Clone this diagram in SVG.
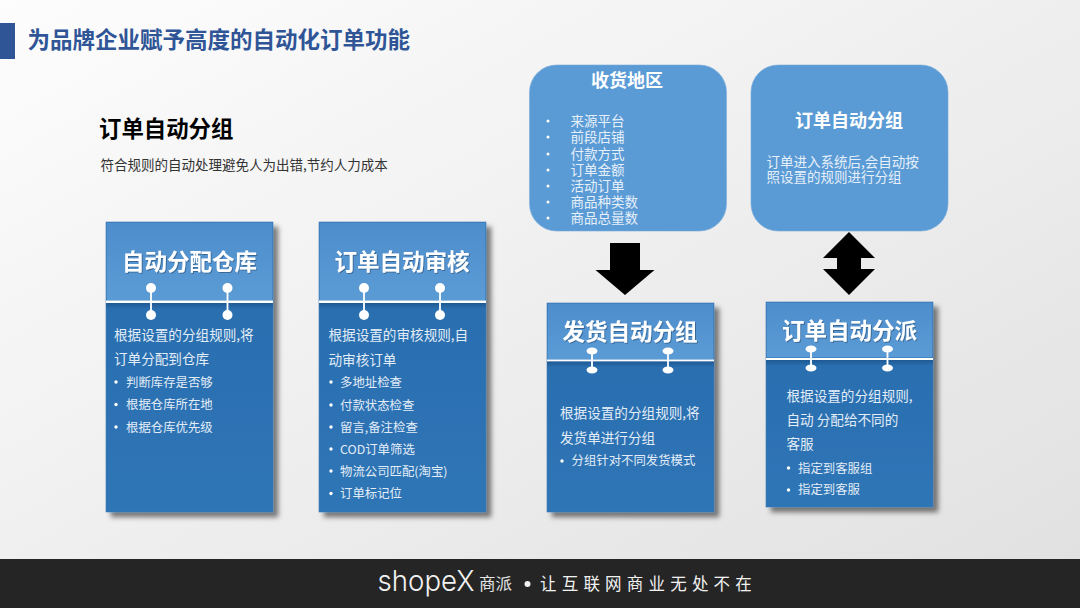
<svg xmlns="http://www.w3.org/2000/svg" width="1080" height="608" viewBox="0 0 1080 608">
<style>
text{font-family:"Microsoft YaHei","Noto Sans CJK SC","Liberation Sans",sans-serif}
.hd{font-size:22.5px;font-weight:700;fill:#fff;text-anchor:middle}
.b{font-size:13.6px;fill:#e3edf7}
.s{font-size:12.4px;fill:#e3edf7}
.d{fill:#fff}
.l{font-size:13.5px;fill:#e6f0fa}
.card{fill:url(#body);stroke:#3f78b3;stroke-width:.6;filter:url(#sh)}
.head{fill:url(#head)}
.pin{stroke:#fff;stroke-width:1.8;fill:#fff}
.rr{fill:#5b9bd5;stroke:#7aaddc;stroke-width:.6}
.ttl{font-size:18px;font-weight:700;fill:#fff;text-anchor:middle}
</style>
<defs>
<linearGradient id="bg" x1="0" y1="0" x2="1" y2="1"><stop offset="0" stop-color="#fdfdfd"/><stop offset="1" stop-color="#e0e0e0"/></linearGradient>
<linearGradient id="body" x1="0" y1="0" x2="0" y2="1"><stop offset="0" stop-color="#2a6cae"/><stop offset="1" stop-color="#2e75b6"/></linearGradient>
<linearGradient id="head" x1="0" y1="0" x2="0" y2="1"><stop offset="0" stop-color="#4d8dcc"/><stop offset="1" stop-color="#5b9bd5"/></linearGradient>
<linearGradient id="under" x1="0" y1="0" x2="0" y2="1"><stop offset="0" stop-color="#174b80" stop-opacity=".6"/><stop offset="1" stop-color="#174b80" stop-opacity="0"/></linearGradient>
<filter id="sh" x="-10%" y="-5%" width="125%" height="115%"><feDropShadow dx="5" dy="5" stdDeviation="2.5" flood-color="#000" flood-opacity=".5"/></filter>
<filter id="ts" x="-5%" y="-20%" width="110%" height="140%"><feDropShadow dx="1" dy="1" stdDeviation=".6" flood-color="#000" flood-opacity=".3"/></filter>
</defs>
<rect width="1080" height="608" fill="url(#bg)"/>

<g id="title">
<rect x="0" y="23" width="15" height="36" fill="#2f5597"/>
<text x="27.500" y="48" font-size="22.500" font-weight="700" fill="#2f5597">为品牌企业赋予高度的自动化订单功能</text>
</g>
<g id="intro">
<text x="99" y="137" font-size="22.400" font-weight="700" fill="#000">订单自动分组</text>
<text x="100.500" y="170" font-size="13.500" fill="#333">符合规则的自动处理避免人为出错,节约人力成本</text>
</g>

<g id="card-warehouse">
<rect class="card" x="106" y="222" width="167" height="290"/>
<rect class="head" x="106.500" y="222.500" width="166" height="78"/>
<rect x="106" y="300.500" width="167" height="2.500" fill="#fff"/>
<rect x="106" y="303" width="167" height="6" fill="url(#under)"/>
<path class="pin" d="M151 288V315M227.500 288V315"/>
<g class="d"><circle cx="151" cy="288" r="5"/><circle cx="151" cy="315" r="5"/><circle cx="227.500" cy="288" r="5"/><circle cx="227.500" cy="315" r="5"/></g>
<text class="hd" x="189.500" y="270" filter="url(#ts)">自动分配仓库</text>
<text class="b" x="114" y="340">根据设置的分组规则,将</text>
<text class="b" x="114" y="364">订单分配到仓库</text>
<g class="d"><circle cx="116" cy="382" r="1.700"/><circle cx="116" cy="404.500" r="1.700"/><circle cx="116" cy="427" r="1.700"/></g>
<text class="s" x="126" y="387">判断库存是否够</text>
<text class="s" x="126" y="409">根据仓库所在地</text>
<text class="s" x="126" y="432">根据仓库优先级</text>
</g>

<g id="card-audit">
<rect class="card" x="319" y="222" width="167" height="290"/>
<rect class="head" x="319.500" y="222.500" width="166" height="78"/>
<rect x="319" y="300.500" width="167" height="2.500" fill="#fff"/>
<rect x="319" y="303" width="167" height="6" fill="url(#under)"/>
<path class="pin" d="M364 288V315M440 288V315"/>
<g class="d"><circle cx="364" cy="288" r="5"/><circle cx="364" cy="315" r="5"/><circle cx="440" cy="288" r="5"/><circle cx="440" cy="315" r="5"/></g>
<text class="hd" x="402" y="270" filter="url(#ts)">订单自动审核</text>
<text class="b" x="328.500" y="340">根据设置的审核规则,自</text>
<text class="b" x="328.500" y="365">动审核订单</text>
<g class="d"><circle cx="331" cy="382" r="1.700"/><circle cx="331" cy="405" r="1.700"/><circle cx="331" cy="427" r="1.700"/><circle cx="331" cy="449" r="1.700"/><circle cx="331" cy="471" r="1.700"/><circle cx="331" cy="493.500" r="1.700"/></g>
<text class="s" x="340" y="387">多地址检查</text>
<text class="s" x="340" y="409.500">付款状态检查</text>
<text class="s" x="340" y="432">留言,备注检查</text>
<text class="s" x="340" y="454">COD订单筛选</text>
<text class="s" x="340" y="476">物流公司匹配(淘宝)</text>
<text class="s" x="340" y="498">订单标记位</text>
</g>

<g id="card-ship">
<rect class="card" x="547" y="303" width="167" height="209"/>
<rect class="head" x="547.500" y="303.500" width="166" height="56"/>
<rect x="547" y="359.500" width="167" height="2" fill="#fff"/>
<rect x="547" y="361.500" width="167" height="6" fill="url(#under)"/>
<path class="pin" d="M592 351V370M668 351V370"/>
<g class="d"><ellipse cx="592" cy="351" rx="5.500" ry="3.500"/><ellipse cx="592" cy="370" rx="5.500" ry="3.500"/><ellipse cx="668" cy="351" rx="5.500" ry="3.500"/><ellipse cx="668" cy="370" rx="5.500" ry="3.500"/></g>
<text class="hd" x="630" y="340" filter="url(#ts)">发货自动分组</text>
<text class="b" x="560" y="418">根据设置的分组规则,将</text>
<text class="b" x="560" y="443">发货单进行分组</text>
<circle class="d" cx="562" cy="461" r="1.700"/>
<text class="s" x="571.500" y="465">分组针对不同发货模式</text>
</g>

<g id="card-dispatch">
<rect class="card" x="766" y="302" width="167" height="205"/>
<rect class="head" x="766.500" y="302.500" width="166" height="55"/>
<rect x="766" y="358" width="167" height="2" fill="#fff"/>
<rect x="766" y="360" width="167" height="6" fill="url(#under)"/>
<path class="pin" d="M811 349V368M887.500 349V368"/>
<g class="d"><ellipse cx="811" cy="349" rx="5.500" ry="3.500"/><ellipse cx="811" cy="368" rx="5.500" ry="3.500"/><ellipse cx="887.500" cy="349" rx="5.500" ry="3.500"/><ellipse cx="887.500" cy="368" rx="5.500" ry="3.500"/></g>
<text class="hd" x="849.500" y="339" filter="url(#ts)">订单自动分派</text>
<text class="b" x="786.500" y="401">根据设置的分组规则,</text>
<text class="b" x="786.500" y="425">自动 分配给不同的</text>
<text class="b" x="786.500" y="449">客服</text>
<g class="d"><circle cx="788.500" cy="468" r="1.700"/><circle cx="788.500" cy="490" r="1.700"/></g>
<text class="s" x="798" y="473">指定到客服组</text>
<text class="s" x="798" y="494">指定到客服</text>
</g>

<g id="box-region">
<rect class="rr" x="529.500" y="65" width="197" height="166" rx="27"/>
<text class="ttl" x="627" y="87">收货地区</text>
<g class="d"><circle cx="548" cy="121" r="1.500"/><circle cx="548" cy="137" r="1.500"/><circle cx="548" cy="154" r="1.500"/><circle cx="548" cy="170" r="1.500"/><circle cx="548" cy="186" r="1.500"/><circle cx="548" cy="202" r="1.500"/><circle cx="548" cy="218" r="1.500"/></g>
<text class="l"><tspan x="570.500" y="126">来源平台</tspan><tspan x="570.500" y="142">前段店铺</tspan><tspan x="570.500" y="159">付款方式</tspan><tspan x="570.500" y="175">订单金额</tspan><tspan x="570.500" y="191">活动订单</tspan><tspan x="570.500" y="207">商品种类数</tspan><tspan x="570.500" y="223">商品总量数</tspan></text>
</g>

<g id="box-group">
<rect class="rr" x="751" y="65" width="197" height="166" rx="27"/>
<text class="ttl" x="849" y="127">订单自动分组</text>
<text class="l"><tspan x="766.500" y="167">订单进入系统后,会自动按</tspan><tspan x="766.500" y="182">照设置的规则进行分组</tspan></text>
</g>

<g id="connectors" fill="#000">
<polygon points="610,243 640,243 640,270 654.500,270 625,295 595.500,270 610,270"/>
<polygon points="849,232 875,258 861,258 861,269 875,269 849,295 823,269 837,269 837,258 823,258"/>
</g>

<g id="footer">
<rect x="0" y="559" width="1080" height="49" fill="#252525"/>
<text x="377.500" y="591" font-size="29" fill="#f2f2f2" style="font-family:'Inter','Liberation Sans',sans-serif;font-weight:300" textLength="97" lengthAdjust="spacingAndGlyphs">shopeX</text>
<text x="479" y="590" font-size="16.500" fill="#e6e6e6">商派</text>
<circle cx="527.500" cy="584" r="3" fill="#f2f2f2"/>
<text x="540" y="590" font-size="16.500" fill="#f2f2f2" letter-spacing="5.200">让互联网商业无处不在</text>
</g>
</svg>
